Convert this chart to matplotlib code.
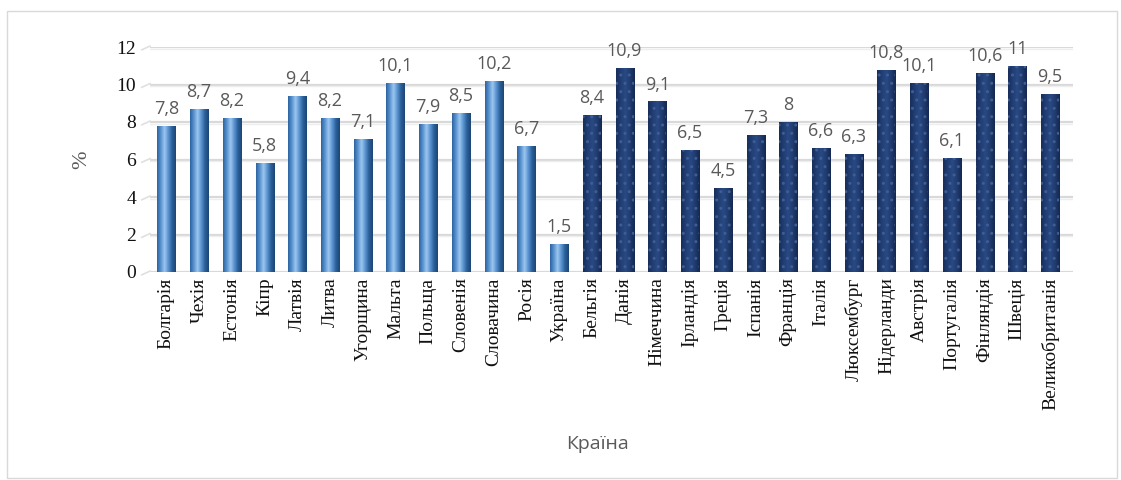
import numpy as np
import matplotlib.pyplot as plt
from matplotlib.colors import LinearSegmentedColormap

countries = ["Болгарія", "Чехія", "Естонія", "Кіпр", "Латвія", "Литва", "Угорщина",
             "Мальта", "Польща", "Словенія", "Словачина", "Росія", "Україна",
             "Бельгія", "Данія", "Німеччина", "Ірландія", "Греція", "Іспанія",
             "Франція", "Італія", "Люксембург", "Нідерланди", "Австрія",
             "Португалія", "Фінляндія", "Швеція", "Великобританія"]
values = [7.8, 8.7, 8.2, 5.8, 9.4, 8.2, 7.1, 10.1, 7.9, 8.5, 10.2, 6.7, 1.5,
          8.4, 10.9, 9.1, 6.5, 4.5, 7.3, 8, 6.6, 6.3, 10.8, 10.1, 6.1, 10.6, 11, 9.5]
labels = ["7,8", "8,7", "8,2", "5,8", "9,4", "8,2", "7,1", "10,1", "7,9", "8,5",
          "10,2", "6,7", "1,5", "8,4", "10,9", "9,1", "6,5", "4,5", "7,3", "8",
          "6,6", "6,3", "10,8", "10,1", "6,1", "10,6", "11", "9,5"]
n_light = 13  # first group (new members + Russia, Ukraine)

fig = plt.figure(figsize=(11.21, 4.8), dpi=100)
# outer chart border
fig.patches.append(plt.Rectangle((7 / 1121, 2 / 480), 1110 / 1121, 467 / 480,
                                 transform=fig.transFigure, fill=False,
                                 edgecolor="#d9d9d9", linewidth=1))

ax = fig.add_axes([150 / 1121, 1 - 272 / 480, 923 / 1121, 225 / 480])
x = np.arange(len(countries))
ax.set_xlim(-0.5, len(countries) - 0.5 + 0.2)
ax.set_ylim(0, 12)

for yv in range(0, 13, 2):
    ax.axhline(yv, color="#d9d9d9", linewidth=1.6, zorder=0)
    ax.axhline(yv - 0.1, color="#eeeeee", linewidth=1.0, zorder=0)
    # little slanted "3D" stub on the left of each gridline
    ax.plot([-0.75, -0.5], [yv - 0.15, yv + 0.05], color="#e0e0e0", linewidth=1.2,
            clip_on=False, zorder=0)

light = LinearSegmentedColormap.from_list("l", ["#2b63a0", "#5a93d0", "#9cc6ef", "#5a93d0", "#2a5f98", "#1d4675"])
dark = LinearSegmentedColormap.from_list("d", ["#182e5a", "#213e74", "#294a84", "#203b6e", "#142850"])
grad = np.linspace(0, 1, 64).reshape(1, -1)

width = 0.55
bars = ax.bar(x, values, width=width, color="none", edgecolor="none", zorder=2)
for i, b in enumerate(bars):
    x0, w, h = b.get_x(), b.get_width(), b.get_height()
    cmap = light if i < n_light else dark
    im = ax.imshow(grad, cmap=cmap, extent=(x0, x0 + w, 0, h), aspect="auto",
                   zorder=2, interpolation="bilinear")
    im.set_clip_path(b)
    if i >= n_light:
        ax.bar(x[i], values[i], width=width, color="none", edgecolor="#3d5d96",
               hatch="..", linewidth=0, zorder=3)

for xi, v, lab in zip(x, values, labels):
    ax.text(xi, v + 0.42, lab, ha="center", va="bottom", fontsize=13,
            color="#595959", family="Open Sans")

ax.set_xticks(x)
ax.set_xticklabels(countries, rotation=90, family="Liberation Serif", fontsize=14,
                   color="#111111")
ax.set_yticks(range(0, 13, 2))
ax.set_yticklabels([str(t) for t in range(0, 13, 2)], family="Liberation Serif",
                   fontsize=14, color="#111111")
ax.tick_params(length=0, pad=4)
ax.tick_params(axis="y", pad=10)
for s in ax.spines.values():
    s.set_visible(False)
ax.set_facecolor("none")

ax.set_ylabel("%", family="Liberation Serif", fontsize=16, color="#595959", labelpad=18)
fig.text(598 / 1121, 1 - 444 / 480, "Країна", ha="center", va="center",
         fontsize=14, color="#595959", family="Open Sans")

fig.savefig("out.png", dpi=100)
